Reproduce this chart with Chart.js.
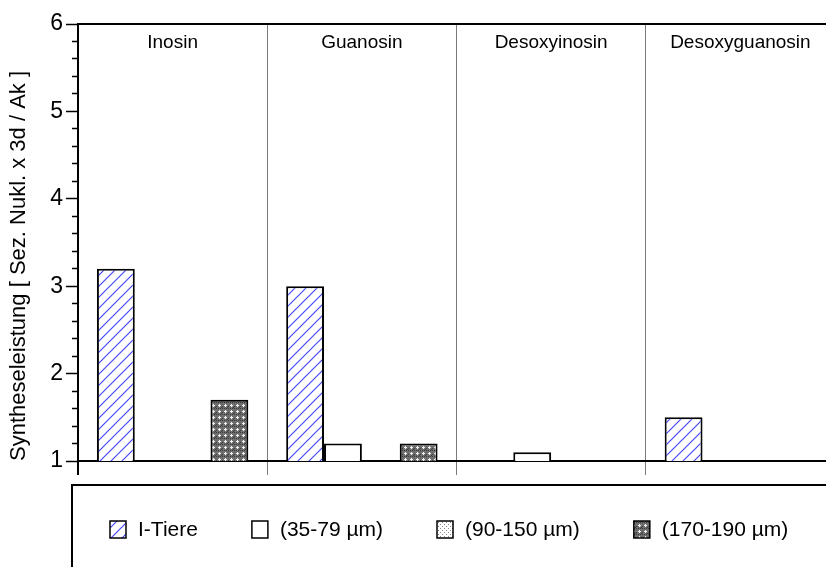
<!DOCTYPE html>
<html>
<head>
<meta charset="utf-8">
<script src="https://cdn.jsdelivr.net/npm/chart.js@4"></script>
<style>
  html, body { margin: 0; padding: 0; background: #fff; overflow: hidden; }
  canvas { display: block; }
</style>
</head>
<body>
<canvas id="myChart" width="836" height="567"></canvas>
<script>
// chart values
var categories = ['Inosin', 'Guanosin', 'Desoxyinosin', 'Desoxyguanosin'];
var seriesNames = ['I-Tiere', '(35-79 µm)', '(90-150 µm)', '(170-190 µm)'];
var valuesITiere = [3.2, 3.0, null, 1.5];
var values35to79 = [null, 1.2, 1.1, null];
var values90to150 = [null, null, null, null];
var values170to190 = [1.7, 1.2, null, null];
var yMin = 1;
var yMax = 6;

var FONT = '"Liberation Sans", Arial, sans-serif';

// fill patterns
function makePattern(size, draw) {
  var c = document.createElement('canvas');
  c.width = size;
  c.height = size;
  var g = c.getContext('2d');
  draw(g, size);
  return g.createPattern(c, 'repeat');
}

var hatchBlue = makePattern(11, function(g, s) {
  g.fillStyle = '#fff';
  g.fillRect(0, 0, s, s);
  g.strokeStyle = '#4646ff';
  g.lineWidth = 1.2;
  g.beginPath();
  g.moveTo(0, s); g.lineTo(s, 0);
  g.moveTo(-s / 2, s / 2); g.lineTo(s / 2, -s / 2);
  g.moveTo(s / 2, s * 1.5); g.lineTo(s * 1.5, s / 2);
  g.stroke();
});

var dotsLight = makePattern(4, function(g, s) {
  g.fillStyle = '#fff';
  g.fillRect(0, 0, s, s);
  g.fillStyle = '#8a8a8a';
  g.fillRect(0, 0, 1, 1);
  g.fillRect(2, 2, 1, 1);
});

var dotsDark = makePattern(6, function(g, s) {
  g.fillStyle = '#6e6e6e';
  g.fillRect(0, 0, s, s);
  g.fillStyle = '#3a3a3a';
  g.fillRect(0, 0, 1, 1);
  g.fillRect(2, 0, 1, 1);
  g.fillRect(4, 0, 1, 1);
  g.fillRect(0, 4, 1, 1);
  g.fillRect(5, 5, 1, 1);
  g.fillStyle = '#f0f0f0';
  g.fillRect(2, 3, 3, 1);
  g.fillRect(3, 2, 1, 3);
});

var fills = [hatchBlue, '#fff', dotsLight, dotsDark];
var seriesData = [valuesITiere, values35to79, values90to150, values170to190];

var datasets = seriesData.map(function(vals, i) {
  return {
    label: seriesNames[i],
    data: vals,
    backgroundColor: fills[i],
    borderColor: '#000',
    borderWidth: 2,
    borderSkipped: false,
    categoryPercentage: 0.8,
    barPercentage: 1.0
  };
});

// top frame line, group names inside the plot, legend box below
var framePlugin = {
  id: 'frameAndLegend',
  afterDraw: function(chart) {
    var ctx = chart.ctx;
    var area = chart.chartArea;
    var xScale = chart.scales.x;
    ctx.save();
    ctx.strokeStyle = '#000';
    ctx.lineWidth = 2;
    ctx.beginPath();
    ctx.moveTo(area.left, area.top);
    ctx.lineTo(chart.width, area.top);
    ctx.stroke();

    // group names
    ctx.font = '19px ' + FONT;
    ctx.fillStyle = '#000';
    ctx.textAlign = 'center';
    ctx.textBaseline = 'middle';
    categories.forEach(function(name, i) {
      ctx.fillText(name, xScale.getPixelForValue(i), area.top + 19);
    });

    // legend box
    var boxTop = area.bottom + 24;
    var boxLeft = area.left - 6;
    ctx.beginPath();
    ctx.moveTo(boxLeft, chart.height);
    ctx.lineTo(boxLeft, boxTop);
    ctx.lineTo(chart.width, boxTop);
    ctx.stroke();

    ctx.font = '21px ' + FONT;
    ctx.textAlign = 'left';
    var x = 110;
    var y = boxTop + 44;
    seriesNames.forEach(function(name, i) {
      ctx.fillStyle = fills[i];
      ctx.fillRect(x, y - 8, 16, 17);
      ctx.lineWidth = 1.5;
      ctx.strokeStyle = '#000';
      ctx.strokeRect(x, y - 8, 16, 17);
      ctx.fillStyle = '#000';
      ctx.fillText(name, x + 28, y + 1);
      x += 28 + ctx.measureText(name).width + 54;
    });
    ctx.restore();
  }
};

var ctx = 'myChart';
var myChart = new Chart(ctx, {
  type: 'bar',
  data: {
    labels: categories,
    datasets: datasets
  },
  options: {
    responsive: false,
    animation: false,
    layout: {
      padding: { top: 24, left: 0, right: 1, bottom: 92 }
    },
    plugins: {
      legend: { display: false },
      tooltip: { enabled: false }
    },
    scales: {
      x: {
        position: 'bottom',
        offset: true,
        grid: {
          offset: true,
          display: true,
          drawOnChartArea: true,
          drawTicks: true,
          tickLength: 14,
          color: function(c) { return c.index === 0 ? '#000' : '#7a7a7a'; },
          lineWidth: function(c) { return c.index === 0 ? 2 : 1; }
        },
        border: { display: true, color: '#000', width: 2 },
        ticks: { display: false },
        afterFit: function(scale) { scale.height = 14; }
      },
      y: {
        min: yMin,
        max: yMax,
        grid: {
          drawOnChartArea: false,
          drawTicks: true,
          tickLength: 12,
          color: '#000',
          tickColor: '#000',
          tickWidth: 1.5,
          tickBorderDash: function(c) {
            var v = c.tick ? c.tick.value : 0;
            return Math.abs(v - Math.round(v)) < 1e-6 ? [] : [0, 6, 6, 50];
          }
        },
        border: { display: true, color: '#000', width: 2 },
        ticks: {
          stepSize: 0.2,
          autoSkip: false,
          padding: 3,
          color: '#000',
          font: { family: FONT, size: 23 },
          callback: function(v) {
            return Math.abs(v - Math.round(v)) < 1e-6 ? String(Math.round(v)) : '';
          }
        },
        title: {
          display: true,
          text: 'Syntheseleistung [ Sez. Nukl. x 3d / Ak ]',
          align: 'start',
          color: '#000',
          padding: { top: 6, bottom: 0 },
          font: { family: FONT, size: 22 }
        },
        afterFit: function(scale) { scale.width = 78; }
      }
    }
  },
  plugins: [framePlugin]
});
</script>
</body>
</html>
